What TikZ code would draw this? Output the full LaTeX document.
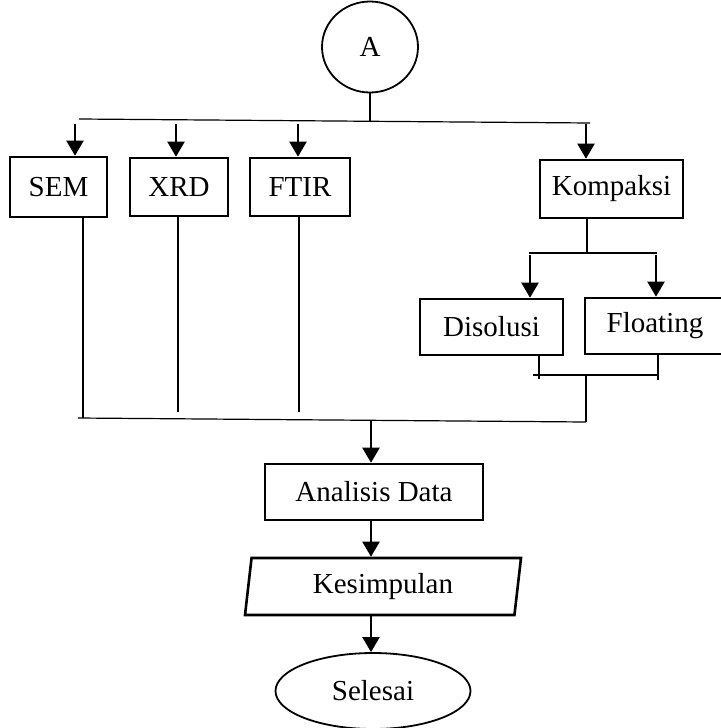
\documentclass[tikz,border=0pt]{standalone}
\usepackage{fontspec}
\setmainfont{Liberation Serif}
\usetikzlibrary{shapes.geometric,arrows.meta}
\begin{document}
\begin{tikzpicture}[x=1pt,y=-1pt,
  txt/.style={font=\fontsize{29}{32}\selectfont},
  box/.style={txt,draw,line width=2.6pt,inner sep=0pt,minimum height=58pt},
  oval/.style={txt,draw,ellipse,line width=1.8pt,inner sep=0pt},
  link/.style={line width=1.2pt},
  arr/.style={line width=2.2pt,-{Triangle[length=15pt,width=17pt]}},
]
\useasboundingbox (0,0) rectangle (720,728);

% start connector and the four branches
\node[oval,minimum width=96pt,minimum height=91pt] (A) at (370,47) {A};
\node[box,minimum width=97pt,minimum height=60pt] (sem) at (58.5,187) {SEM};
\node[box,minimum width=98pt] (xrd) at (179,187) {XRD};
\node[box,minimum width=100pt] (ftir) at (300,187) {FTIR};
\node[box,minimum width=143pt] (komp) at (611.5,189) {Kompaksi};
\node[box,minimum width=143pt,minimum height=56pt] (dis) at (491.5,327) {Disolusi};
\node[box,minimum width=140pt,minimum height=56pt] (flo) at (655,326) {Floating};
\node[box,minimum width=218pt,minimum height=56pt] (ana) at (374,492) {Analisis Data};
\node[txt,draw,line width=2.6pt,trapezium,trapezium left angle=76,trapezium right angle=104,
      trapezium stretches body,minimum width=276pt,minimum height=57pt,inner sep=0pt]
      (kes) at (383,586.5) {Kesimpulan};
\node[oval,minimum width=195pt,minimum height=76pt] (end) at (373,691) {Selesai};

% top distribution bar
\coordinate (midbar) at (370,121);
\coordinate (barL) at (79,119);
\coordinate (barR) at (590,123);
\draw[link] (A) -- (midbar);
\draw[link] (barL) -- (barR);
\coordinate (t1) at (75,124);
\coordinate (t2) at (176,124);
\coordinate (t3) at (298,124);
\coordinate (t4) at (586,124);
\draw[arr] (t1) -- (t1 |- sem.north);
\draw[arr] (t2) -- (t2 |- xrd.north);
\draw[arr] (t3) -- (t3 |- ftir.north);
\draw[arr] (t4) -- (t4 |- komp.north);

% Kompaksi split
\coordinate (split) at (587,253);
\coordinate (sL) at (529,253);
\coordinate (sR) at (657,253);
\draw[link] (split |- komp.south) -- (split);
\draw[link] (sL) -- (sR);
\coordinate (d1) at (530,255);
\coordinate (d2) at (656,255);
\draw[arr] (d1) -- (d1 |- dis.north);
\draw[arr] (d2) -- (d2 |- flo.north);

% Disolusi / Floating join
\coordinate (j1) at (539,379);
\coordinate (j2) at (658,380);
\coordinate (jL) at (533,375);
\coordinate (jR) at (659,375);
\coordinate (jm) at (586,375);
\draw[link] (j1 |- dis.south) -- (j1);
\draw[link] (j2 |- flo.south) -- (j2);
\draw[link] (jL) -- (jR);

% collecting bar
\coordinate (b1) at (83,418);
\coordinate (b2) at (178,412);
\coordinate (b3) at (299,412);
\coordinate (botL) at (78,418);
\coordinate (botR) at (586,422);
\draw[link] (b1 |- sem.south) -- (b1);
\draw[link] (b2 |- xrd.south) -- (b2);
\draw[link] (b3 |- ftir.south) -- (b3);
\draw[link] (jm) -- (botR);
\draw[link] (botL) -- (botR);

% main flow downwards
\coordinate (c1) at (371,421);
\draw[arr] (c1) -- (c1 |- ana.north);
\draw[arr] (c1 |- ana.south) -- (c1 |- kes.north);
\draw[arr] (c1 |- kes.south) -- (c1 |- end.north);
\end{tikzpicture}
\end{document}
